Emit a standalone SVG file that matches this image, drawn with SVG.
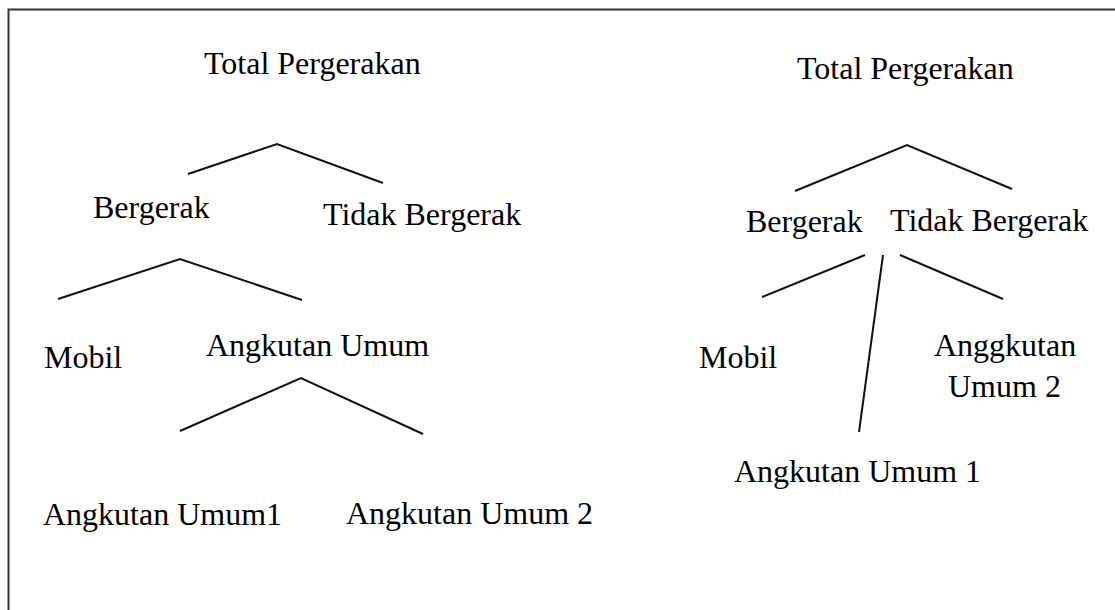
<svg xmlns="http://www.w3.org/2000/svg" width="1115" height="610" viewBox="0 0 1115 610">
<style>
text{font-family:"Liberation Serif","Times New Roman",serif;font-size:32px;fill:#000}
.c{fill:none;stroke:#111;stroke-width:2;stroke-linejoin:miter}
.b{fill:none;stroke:#333;stroke-width:2}
</style>
<rect width="1115" height="610" fill="#fff"/>
<g id="frame"><path class="b" d="M8.5,610 V9.5 H1115"/></g>
<g id="connectors">
<polyline class="c" points="188,174 277,144 383,183"/>
<polyline class="c" points="58,299 180,259 302,300"/>
<polyline class="c" points="180,431 301,378 423,434"/>
<polyline class="c" points="795,191 907,145 1012,189"/>
<line class="c" x1="762" y1="297" x2="865" y2="255"/>
<line class="c" x1="883" y1="255" x2="859" y2="432"/>
<line class="c" x1="900" y1="255" x2="1003" y2="299"/>
</g>
<g id="l-total"><text x="204" y="74">Total Pergerakan</text></g>
<g id="l-bergerak"><text x="93" y="218">Bergerak</text></g>
<g id="l-tidak"><text x="323" y="225">Tidak Bergerak</text></g>
<g id="l-mobil"><text x="44" y="368">Mobil</text></g>
<g id="l-angkutan"><text x="206" y="356">Angkutan Umum</text></g>
<g id="l-au1"><text x="43" y="525">Angkutan Umum1</text></g>
<g id="l-au2"><text x="346" y="524">Angkutan Umum 2</text></g>
<g id="r-total"><text x="797" y="79">Total Pergerakan</text></g>
<g id="r-bergerak"><text x="746" y="232">Bergerak</text></g>
<g id="r-tidak"><text x="890" y="231">Tidak Bergerak</text></g>
<g id="r-mobil"><text x="699" y="368">Mobil</text></g>
<g id="r-au2"><text x="934" y="356">Anggkutan</text><text x="948" y="397">Umum 2</text></g>
<g id="r-au1"><text x="734" y="482">Angkutan Umum 1</text></g>
</svg>
